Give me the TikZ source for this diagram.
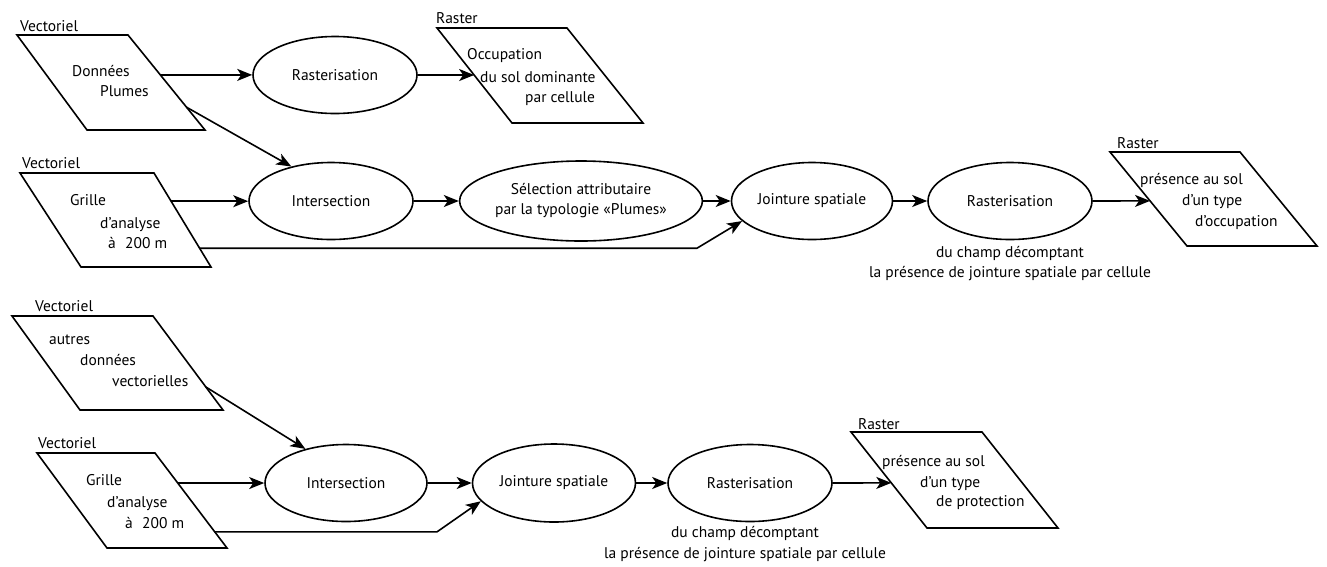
\documentclass[tikz,border=0pt]{standalone}
\usepackage{fontspec}
\setmainfont{PT Sans}
\usetikzlibrary{shapes.geometric,arrows.meta,calc}
\begin{document}
\begin{tikzpicture}[x=1pt,y=-1pt,
  font=\fontsize{15.5}{20}\selectfont,
  proc/.style={ellipse, draw, line width=1.6pt, inner sep=0pt, align=center, minimum width=164pt, minimum height=77pt},
  parabox/.style={draw, line width=1.6pt, line join=miter},
  arr/.style={line width=1.6pt, -{Stealth[length=15pt,width=12pt,inset=4pt]}},
  lbl/.style={anchor=base west, inner sep=0pt},
  sub/.style={anchor=base, inner sep=0pt}]
\fill[white] (0,0) rectangle (1327,566);
\useasboundingbox (0,0) rectangle (1327,566);

% ---------- Row 1 ----------
\draw[parabox] (17,35) coordinate (p1a) -- (128,35) coordinate (p1b) -- (205,130) coordinate (p1c) -- (87,130) coordinate (p1d) -- cycle;
\node[lbl] (v1) at (20,31) {Vectoriel};
\node[lbl] (p1t1) at (72,76) {Données};
\node[lbl] (p1t2) at (100,96) {Plumes};

\node[proc] (ras1) at (335,75) {Rasterisation};

\draw[parabox] (437,28) coordinate (o1a) -- (567,28) coordinate (o1b) -- (643,123) coordinate (o1c) -- (512,123) coordinate (o1d) -- cycle;
\node[lbl] (r1) at (436,23) {Raster};
\node[lbl] (o1t1) at (467,59) {Occupation};
\node[lbl] (o1t2) at (480,82) {du sol dominante};
\node[lbl] (o1t3) at (525,102) {par cellule};

% ---------- Row 2 ----------
\draw[parabox] (20,173) coordinate (g1a) -- (154,173) coordinate (g1b) -- (211,267) coordinate (g1c) -- (81,267) coordinate (g1d) -- cycle;
\node[lbl] (v2) at (22,168) {Vectoriel};
\node[lbl] (g1t1) at (70,205) {Grille};
\node[lbl] (g1t2) at (100,228) {d’analyse};
\node[lbl] (g1t3) at (108,248) {à\hspace{0.6em}200 m};

\node[proc] (int1) at (331,201) {Intersection};
\node[proc, minimum width=211pt, minimum height=80pt] (sel) at (581,201) {Sélection attributaire\\par la typologie «Plumes»};
\node[proc, minimum width=161pt] (joi1) at (812,201) {Jointure spatiale};
\node[proc] (ras2) at (1010,201) {Rasterisation};
\node[sub] (c2a) at (1010,257) {du champ décomptant};
\node[sub] (c2b) at (1010,277) {la présence de jointure spatiale par cellule};

\draw[parabox] (1110,152) coordinate (o2a) -- (1240,152) coordinate (o2b) -- (1317,246) coordinate (o2c) -- (1187,246) coordinate (o2d) -- cycle;
\node[lbl] (r2) at (1117,148) {Raster};
\node[lbl] (o2t1) at (1140,184) {présence au sol};
\node[lbl] (o2t2) at (1182,205) {d’un type};
\node[lbl] (o2t3) at (1195,226) {d’occupation};

% ---------- Row 3 ----------
\draw[parabox] (12,316) coordinate (a3a) -- (153,316) coordinate (a3b) -- (223,410) coordinate (a3c) -- (80,410) coordinate (a3d) -- cycle;
\node[lbl] (v3) at (35,311) {Vectoriel};
\node[lbl] (a3t1) at (49,344) {autres};
\node[lbl] (a3t2) at (80,365) {données};
\node[lbl] (a3t3) at (112,386) {vectorielles};

\draw[parabox] (37,453) coordinate (g2a) -- (155,453) coordinate (g2b) -- (227,548) coordinate (g2c) -- (107,548) coordinate (g2d) -- cycle;
\node[lbl] (v4) at (38,448) {Vectoriel};
\node[lbl] (g2t1) at (86,485) {Grille};
\node[lbl] (g2t2) at (107,507) {d’analyse};
\node[lbl] (g2t3) at (125,528) {à\hspace{0.6em}200 m};

\node[proc, minimum width=162pt] (int2) at (346,483) {Intersection};
\node[proc, minimum width=163pt, minimum height=78pt] (joi2) at (554,483) {Jointure spatiale};
\node[proc] (ras3) at (750,483) {Rasterisation};
\node[sub] (c3a) at (745,537) {du champ décomptant};
\node[sub] (c3b) at (745,558) {la présence de jointure spatiale par cellule};

\draw[parabox] (851,432) coordinate (o3a) -- (982,432) coordinate (o3b) -- (1058,528) coordinate (o3c) -- (927,528) coordinate (o3d) -- cycle;
\node[lbl] (r3) at (858,429) {Raster};
\node[lbl] (o3t1) at (882,466) {présence au sol};
\node[lbl] (o3t2) at (920,487) {d’un type};
\node[lbl] (o3t3) at (936,506) {de protection};

% ---------- connector end points ----------
\coordinate (p1e) at ($(p1b)!0.42!(p1c)$);
\coordinate (p1f) at ($(p1b)!0.76!(p1c)$);
\coordinate (o1e) at ($(o1a)!0.495!(o1d)$);
\coordinate (g1e) at ($(g1b)!0.30!(g1c)$);
\coordinate (g1f) at ($(g1b)!0.80!(g1c)$);
\coordinate (g1k) at (697,248);
\coordinate (o2e) at ($(o2a)!0.52!(o2d)$);
\coordinate (a3e) at ($(a3b)!0.755!(a3c)$);
\coordinate (g2e) at ($(g2b)!0.316!(g2c)$);
\coordinate (g2f) at ($(g2b)!0.83!(g2c)$);
\coordinate (g2k) at (437,532);
\coordinate (o3e) at ($(o3a)!0.53!(o3d)$);

% ---------- connectors ----------
\draw[arr] (p1e) -- (ras1.west |- p1e);
\draw[arr] (ras1.east) -- (o1e);
\draw[arr] (p1f) -- (int1.139);
\draw[arr] (g1e) -- (int1.west |- g1e);
\draw[arr] (int1.east) -- (sel.west);
\draw[arr] (sel.east) -- (joi1.west);
\draw[arr] (g1f) -- (g1f -| g1k) -- (joi1.196);
\draw[arr] (joi1.east) -- (ras2.west);
\draw[arr] (ras2.east) -- (o2e);

\draw[arr] (a3e) -- (int2.140);
\draw[arr] (g2e) -- (int2.west |- g2e);
\draw[arr] (int2.east) -- (joi2.west);
\draw[arr] (g2f) -- (g2f -| g2k) -- (joi2.194);
\draw[arr] (joi2.east) -- (ras3.west);
\draw[arr] (ras3.east) -- (o3e);
\end{tikzpicture}
\end{document}
